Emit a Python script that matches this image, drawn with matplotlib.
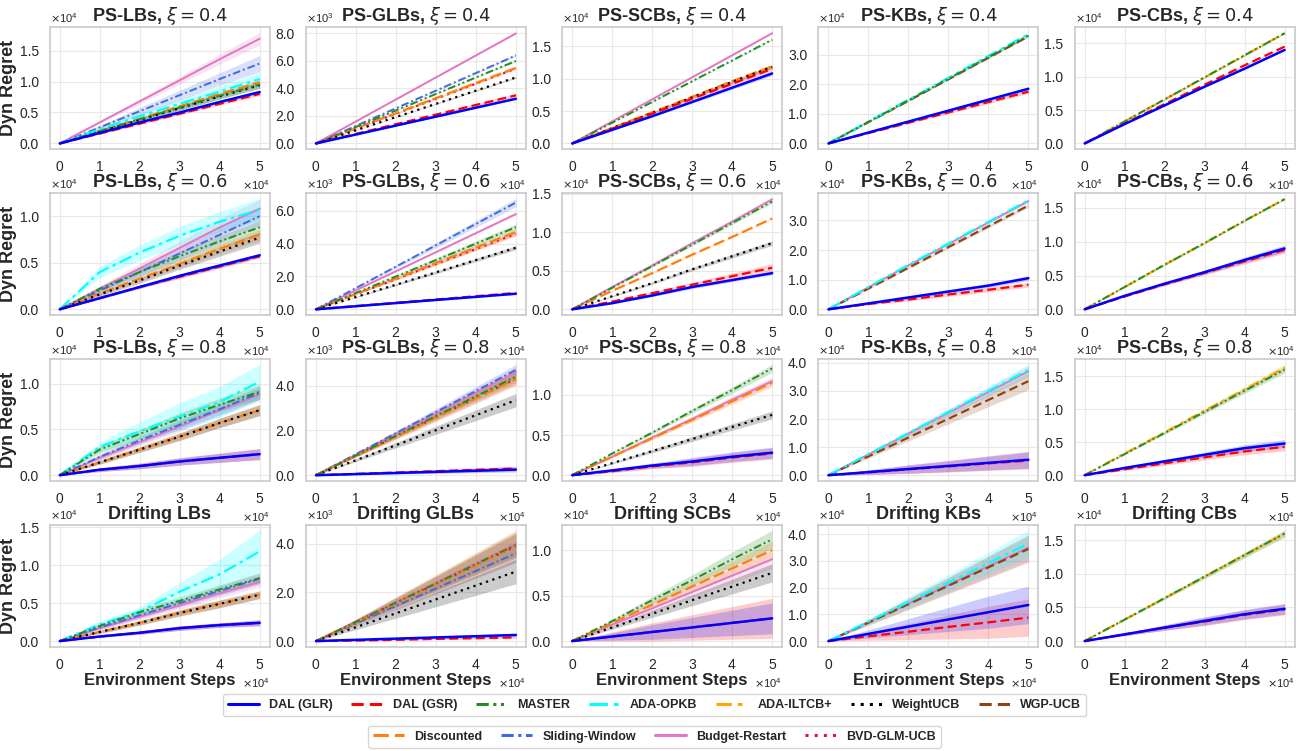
import matplotlib
matplotlib.use("Agg")
import matplotlib.pyplot as plt
import seaborn as sns
import numpy as np
from matplotlib.lines import Line2D
from matplotlib.ticker import ScalarFormatter, MaxNLocator

sns.set_theme(style="whitegrid")
plt.rcParams["font.family"] = ["Liberation Sans", "DejaVu Sans"]

# x positions (environment steps)
steps = [0, 10000, 20000, 30000, 40000, 50000]

# ---- data: name -> (mean, std), in units of the panel scale ----
ps_lbs_04 = {
    "DAL (GLR)": ([0, .17, .34, .50, .67, .83], [0, .01, .015, .02, .02, .025]),
    "DAL (GSR)": ([0, .16, .32, .48, .64, .80], [0, .01, .015, .02, .02, .025]),
    "MASTER": ([0, .20, .39, .58, .77, .95], [0, .02, .03, .04, .05, .06]),
    "ADA-OPKB": ([0, .23, .44, .64, .84, 1.04], [0, .03, .05, .07, .09, .11]),
    "WeightUCB": ([0, .19, .38, .57, .76, .94], [0, .02, .03, .04, .04, .05]),
    "Discounted": ([0, .20, .40, .60, .80, .99], [0, .01, .02, .03, .03, .04]),
    "Sliding-Window": ([0, .26, .52, .78, 1.04, 1.29], [0, .03, .06, .08, .10, .13]),
    "Budget-Restart": ([0, .34, .68, 1.02, 1.36, 1.69], [0, .02, .04, .06, .08, .10]),
}
ps_glbs_04 = {
    "DAL (GLR)": ([0, .65, 1.3, 1.95, 2.6, 3.25], [0, .02, .03, .04, .05, .06]),
    "DAL (GSR)": ([0, .70, 1.4, 2.1, 2.8, 3.5], [0, .03, .05, .08, .10, .12]),
    "MASTER": ([0, 1.2, 2.4, 3.6, 4.8, 6.0], [0, .02, .03, .04, .05, .06]),
    "WeightUCB": ([0, .96, 1.92, 2.88, 3.84, 4.8], [0, .02, .03, .04, .05, .06]),
    "Discounted": ([0, 1.1, 2.2, 3.3, 4.4, 5.5], [0, .02, .03, .04, .05, .06]),
    "BVD-GLM-UCB": ([0, 1.08, 2.16, 3.25, 4.35, 5.45], [0, .02, .03, .04, .05, .06]),
    "Sliding-Window": ([0, 1.28, 2.56, 3.84, 5.12, 6.4], [0, .02, .03, .04, .05, .06]),
    "Budget-Restart": ([0, 1.6, 3.2, 4.8, 6.4, 8.0], [0, .02, .03, .04, .05, .06]),
}
ps_scbs_04 = {
    "DAL (GLR)": ([0, .21, .42, .64, .86, 1.08], [0, .01, .015, .02, .025, .03]),
    "DAL (GSR)": ([0, .23, .46, .69, .92, 1.15], [0, .01, .015, .02, .025, .03]),
    "MASTER": ([0, .32, .64, .96, 1.28, 1.60], [0, .005, .01, .01, .01, .01]),
    "WeightUCB": ([0, .235, .47, .71, .95, 1.18], [0, .01, .01, .015, .02, .02]),
    "Discounted": ([0, .24, .48, .72, .96, 1.19], [0, .01, .015, .02, .025, .03]),
    "Budget-Restart": ([0, .34, .68, 1.02, 1.36, 1.70], [0, .005, .01, .01, .01, .01]),
}
ps_kbs_04 = {
    "DAL (GLR)": ([0, .37, .74, 1.11, 1.48, 1.85], [0, .02, .03, .04, .05, .06]),
    "DAL (GSR)": ([0, .35, .70, 1.05, 1.40, 1.75], [0, .02, .03, .04, .05, .06]),
    "MASTER": ([0, .73, 1.46, 2.19, 2.92, 3.65], [0, .01, .02, .02, .03, .03]),
    "ADA-OPKB": ([0, .74, 1.48, 2.22, 2.96, 3.70], [0, .01, .02, .03, .04, .05]),
    "WGP-UCB": ([0, .72, 1.44, 2.17, 2.90, 3.62], [0, .01, .02, .02, .03, .03]),
}
ps_cbs_04 = {
    "DAL (GLR)": ([0, .29, .57, .85, 1.12, 1.40], [0, .005, .01, .01, .01, .01]),
    "DAL (GSR)": ([0, .30, .59, .88, 1.17, 1.45], [0, .005, .01, .01, .01, .01]),
    "MASTER": ([0, .33, .66, .99, 1.32, 1.65], [0, .005, .01, .01, .01, .01]),
    "ADA-ILTCB+": ([0, .33, .66, .99, 1.32, 1.65], [0, .005, .01, .01, .01, .01]),
}

ps_lbs_06 = {
    "DAL (GLR)": ([0, .12, .24, .36, .47, .58], [0, .01, .015, .02, .02, .02]),
    "DAL (GSR)": ([0, .12, .24, .35, .46, .57], [0, .01, .015, .02, .02, .02]),
    "MASTER": ([0, .22, .40, .57, .73, .88], [0, .03, .04, .05, .06, .07]),
    "ADA-OPKB": ([0, .40, .61, .79, .94, 1.07], [0, .06, .08, .10, .11, .12]),
    "WeightUCB": ([0, .16, .31, .47, .62, .77], [0, .02, .03, .04, .05, .06]),
    "Discounted": ([0, .17, .33, .49, .65, .80], [0, .02, .03, .04, .05, .06]),
    "Sliding-Window": ([0, .20, .40, .60, .80, 1.00], [0, .03, .05, .07, .09, .10]),
    "Budget-Restart": ([0, .22, .44, .66, .88, 1.08], [0, .03, .05, .07, .09, .10]),
}
ps_glbs_06 = {
    "DAL (GLR)": ([0, .19, .38, .57, .76, .95], [0, .01, .02, .03, .04, .05]),
    "DAL (GSR)": ([0, .20, .40, .60, .80, 1.0], [0, .01, .02, .03, .04, .05]),
    "MASTER": ([0, 1.0, 2.0, 3.0, 4.0, 5.0], [0, .04, .08, .12, .16, .2]),
    "WeightUCB": ([0, .75, 1.5, 2.25, 3.0, 3.75], [0, .03, .06, .08, .1, .12]),
    "Discounted": ([0, .94, 1.88, 2.82, 3.76, 4.7], [0, .04, .08, .12, .16, .2]),
    "BVD-GLM-UCB": ([0, .92, 1.84, 2.76, 3.68, 4.6], [0, .03, .06, .08, .1, .12]),
    "Sliding-Window": ([0, 1.3, 2.6, 3.9, 5.2, 6.5], [0, .06, .1, .15, .2, .25]),
    "Budget-Restart": ([0, 1.16, 2.32, 3.48, 4.64, 5.8], [0, .02, .03, .04, .05, .06]),
}
ps_scbs_06 = {
    "DAL (GLR)": ([0, .08, .18, .29, .38, .47], [0, .01, .015, .02, .02, .02]),
    "DAL (GSR)": ([0, .10, .21, .32, .43, .54], [0, .01, .02, .03, .04, .05]),
    "MASTER": ([0, .28, .56, .84, 1.12, 1.40], [0, .005, .01, .015, .02, .02]),
    "WeightUCB": ([0, .17, .34, .52, .69, .86], [0, .01, .015, .02, .025, .03]),
    "Discounted": ([0, .24, .47, .71, .94, 1.18], [0, .005, .01, .01, .01, .01]),
    "Budget-Restart": ([0, .29, .57, .86, 1.14, 1.43], [0, .005, .01, .01, .01, .01]),
}
ps_kbs_06 = {
    "DAL (GLR)": ([0, .20, .40, .60, .80, 1.05], [0, .03, .05, .06, .07, .08]),
    "DAL (GSR)": ([0, .18, .33, .50, .66, .83], [0, .03, .05, .06, .07, .08]),
    "ADA-OPKB": ([0, .75, 1.50, 2.22, 2.95, 3.68], [0, .02, .03, .04, .05, .06]),
    "WGP-UCB": ([0, .70, 1.40, 2.10, 2.80, 3.50], [0, .02, .03, .04, .05, .06]),
    "Budget-Restart": ([0, .74, 1.48, 2.20, 2.93, 3.65], [0, .02, .03, .04, .05, .06]),
}
ps_cbs_06 = {
    "DAL (GLR)": ([0, .20, .38, .55, .73, .90], [0, .01, .02, .03, .04, .05]),
    "DAL (GSR)": ([0, .19, .37, .54, .71, .88], [0, .01, .02, .03, .04, .05]),
    "MASTER": ([0, .33, .66, .98, 1.31, 1.63], [0, .005, .01, .01, .01, .01]),
    "ADA-ILTCB+": ([0, .33, .66, .98, 1.31, 1.63], [0, .005, .01, .01, .01, .01]),
}

ps_lbs_08 = {
    "DAL (GLR)": ([0, .06, .10, .15, .19, .23], [0, .02, .03, .04, .05, .06]),
    "DAL (GSR)": ([0, .06, .10, .15, .19, .23], [0, .02, .03, .04, .05, .06]),
    "MASTER": ([0, .28, .45, .62, .77, .91], [0, .04, .05, .06, .07, .08]),
    "ADA-OPKB": ([0, .31, .48, .64, .80, 1.02], [0, .05, .10, .15, .17, .19]),
    "WeightUCB": ([0, .14, .28, .42, .57, .71], [0, .02, .03, .04, .05, .06]),
    "Discounted": ([0, .14, .28, .42, .57, .71], [0, .02, .03, .04, .05, .06]),
    "Sliding-Window": ([0, .20, .38, .55, .72, .90], [0, .03, .04, .05, .06, .07]),
    "Budget-Restart": ([0, .19, .36, .53, .71, .88], [0, .03, .04, .05, .06, .07]),
}
ps_glbs_08 = {
    "DAL (GLR)": ([0, .05, .10, .15, .20, .25], [0, .03, .05, .07, .09, .10]),
    "DAL (GSR)": ([0, .06, .12, .18, .24, .30], [0, .03, .05, .07, .09, .10]),
    "MASTER": ([0, .88, 1.76, 2.64, 3.52, 4.40], [0, .05, .1, .15, .2, .25]),
    "WeightUCB": ([0, .67, 1.34, 2.01, 2.68, 3.35], [0, .06, .12, .18, .24, .3]),
    "Discounted": ([0, .86, 1.72, 2.58, 3.44, 4.30], [0, .06, .12, .18, .24, .3]),
    "BVD-GLM-UCB": ([0, .86, 1.72, 2.58, 3.44, 4.30], [0, .05, .1, .15, .2, .25]),
    "Sliding-Window": ([0, .94, 1.88, 2.82, 3.76, 4.70], [0, .05, .1, .15, .2, .25]),
    "Budget-Restart": ([0, .92, 1.84, 2.76, 3.68, 4.60], [0, .05, .1, .15, .2, .25]),
}
ps_scbs_08 = {
    "DAL (GLR)": ([0, .06, .12, .17, .23, .28], [0, .02, .03, .05, .06, .07]),
    "DAL (GSR)": ([0, .05, .11, .16, .22, .27], [0, .02, .03, .05, .06, .07]),
    "MASTER": ([0, .27, .53, .80, 1.06, 1.33], [0, .01, .02, .03, .04, .05]),
    "WeightUCB": ([0, .15, .30, .45, .60, .75], [0, .01, .02, .03, .04, .05]),
    "Discounted": ([0, .23, .46, .69, .92, 1.15], [0, .01, .02, .03, .04, .05]),
    "Budget-Restart": ([0, .23, .47, .70, .94, 1.17], [0, .01, .02, .03, .04, .05]),
}
ps_kbs_08 = {
    "DAL (GLR)": ([0, .11, .22, .33, .44, .55], [0, .08, .15, .2, .25, .3]),
    "DAL (GSR)": ([0, .10, .21, .31, .42, .52], [0, .08, .15, .2, .25, .3]),
    "ADA-OPKB": ([0, .75, 1.50, 2.25, 3.00, 3.75], [0, .04, .08, .12, .16, .2]),
    "WGP-UCB": ([0, .67, 1.34, 2.01, 2.68, 3.35], [0, .06, .12, .18, .24, .3]),
    "Budget-Restart": ([0, .74, 1.48, 2.22, 2.96, 3.70], [0, .04, .08, .12, .16, .2]),
}
ps_cbs_08 = {
    "DAL (GLR)": ([0, .11, .21, .31, .41, .48], [0, .02, .03, .04, .05, .06]),
    "DAL (GSR)": ([0, .09, .18, .27, .36, .43], [0, .02, .03, .04, .05, .06]),
    "MASTER": ([0, .32, .64, .96, 1.28, 1.60], [0, .01, .02, .03, .04, .05]),
    "ADA-ILTCB+": ([0, .33, .65, .98, 1.30, 1.63], [0, .01, .02, .03, .04, .05]),
}

drift_lbs = {
    "DAL (GLR)": ([0, .06, .11, .17, .21, .24], [0, .01, .02, .03, .03, .04]),
    "DAL (GSR)": ([0, .06, .11, .17, .21, .24], [0, .01, .02, .03, .03, .04]),
    "MASTER": ([0, .20, .38, .53, .68, .83], [0, .03, .04, .05, .06, .07]),
    "ADA-OPKB": ([0, .22, .39, .65, .88, 1.18], [0, .04, .06, .12, .20, .28]),
    "WeightUCB": ([0, .12, .24, .37, .49, .61], [0, .02, .03, .04, .05, .05]),
    "Discounted": ([0, .12, .24, .37, .49, .61], [0, .02, .03, .04, .05, .05]),
    "Sliding-Window": ([0, .18, .34, .50, .66, .82], [0, .03, .04, .05, .06, .07]),
    "Budget-Restart": ([0, .17, .32, .47, .63, .78], [0, .03, .04, .05, .06, .07]),
}
drift_glbs = {
    "DAL (GLR)": ([0, .05, .10, .15, .20, .25], [0, .02, .04, .05, .06, .07]),
    "DAL (GSR)": ([0, .02, .05, .09, .12, .15], [0, .01, .02, .03, .04, .05]),
    "MASTER": ([0, .79, 1.58, 2.37, 3.16, 3.95], [0, .1, .2, .3, .4, .5]),
    "WeightUCB": ([0, .57, 1.14, 1.71, 2.28, 2.85], [0, .1, .2, .3, .4, .5]),
    "Discounted": ([0, .78, 1.56, 2.34, 3.12, 3.90], [0, .13, .26, .39, .52, .65]),
    "BVD-GLM-UCB": ([0, .78, 1.56, 2.34, 3.12, 3.90], [0, .1, .2, .3, .4, .5]),
    "Sliding-Window": ([0, .72, 1.44, 2.16, 2.88, 3.60], [0, .08, .15, .22, .3, .38]),
    "Budget-Restart": ([0, .80, 1.60, 2.40, 3.20, 4.00], [0, .1, .2, .3, .4, .5]),
}
drift_scbs = {
    "DAL (GLR)": ([0, .05, .10, .15, .20, .25], [0, .04, .08, .11, .14, .17]),
    "DAL (GSR)": ([0, .05, .10, .15, .20, .25], [0, .05, .1, .14, .18, .22]),
    "MASTER": ([0, .22, .45, .67, .90, 1.12], [0, .02, .04, .06, .08, .1]),
    "WeightUCB": ([0, .15, .30, .45, .60, .75], [0, .02, .04, .06, .08, .1]),
    "Discounted": ([0, .20, .40, .60, .80, 1.00], [0, .02, .04, .06, .08, .1]),
    "Budget-Restart": ([0, .18, .36, .54, .72, .90], [0, .02, .04, .06, .08, .1]),
}
drift_kbs = {
    "DAL (GLR)": ([0, .27, .54, .81, 1.08, 1.35], [0, .15, .3, .45, .6, .7]),
    "DAL (GSR)": ([0, .18, .35, .53, .70, .88], [0, .15, .3, .45, .6, .7]),
    "ADA-OPKB": ([0, .73, 1.46, 2.19, 2.92, 3.65], [0, .1, .2, .3, .4, .5]),
    "WGP-UCB": ([0, .69, 1.38, 2.07, 2.76, 3.45], [0, .1, .2, .3, .4, .5]),
    "Budget-Restart": ([0, .70, 1.40, 2.10, 2.80, 3.50], [0, .1, .2, .3, .4, .5]),
}
drift_cbs = {
    "DAL (GLR)": ([0, .10, .20, .30, .40, .48], [0, .02, .04, .06, .07, .08]),
    "DAL (GSR)": ([0, .10, .20, .29, .39, .47], [0, .02, .04, .06, .07, .08]),
    "MASTER": ([0, .32, .64, .96, 1.28, 1.60], [0, .01, .02, .03, .04, .05]),
    "ADA-ILTCB+": ([0, .32, .64, .96, 1.28, 1.60], [0, .01, .02, .03, .04, .05]),
}

titles = [
    [r"PS-LBs, $\xi = 0.4$", r"PS-GLBs, $\xi = 0.4$", r"PS-SCBs, $\xi = 0.4$", r"PS-KBs, $\xi = 0.4$", r"PS-CBs, $\xi = 0.4$"],
    [r"PS-LBs, $\xi = 0.6$", r"PS-GLBs, $\xi = 0.6$", r"PS-SCBs, $\xi = 0.6$", r"PS-KBs, $\xi = 0.6$", r"PS-CBs, $\xi = 0.6$"],
    [r"PS-LBs, $\xi = 0.8$", r"PS-GLBs, $\xi = 0.8$", r"PS-SCBs, $\xi = 0.8$", r"PS-KBs, $\xi = 0.8$", r"PS-CBs, $\xi = 0.8$"],
    ["Drifting LBs", "Drifting GLBs", "Drifting SCBs", "Drifting KBs", "Drifting CBs"],
]
panel_data = [
    [ps_lbs_04, ps_glbs_04, ps_scbs_04, ps_kbs_04, ps_cbs_04],
    [ps_lbs_06, ps_glbs_06, ps_scbs_06, ps_kbs_06, ps_cbs_06],
    [ps_lbs_08, ps_glbs_08, ps_scbs_08, ps_kbs_08, ps_cbs_08],
    [drift_lbs, drift_glbs, drift_scbs, drift_kbs, drift_cbs],
]
# panel y unit per column (GLBs are in thousands)
col_units = [1e4, 1e3, 1e4, 1e4, 1e4]

styles = {
    "DAL (GLR)": dict(color="blue", ls="-", lw=1.8),
    "DAL (GSR)": dict(color="red", ls=(0, (4, 2)), lw=1.6),
    "MASTER": dict(color="forestgreen", ls=(0, (4, 1.5, 1, 1.5, 1, 1.5)), lw=1.4),
    "ADA-OPKB": dict(color="cyan", ls=(0, (6, 2, 1.5, 2)), lw=1.6),
    "ADA-ILTCB+": dict(color="orange", ls=(0, (5, 2, 1.5, 2)), lw=1.6),
    "WeightUCB": dict(color="black", ls=(0, (1, 2)), lw=1.6),
    "WGP-UCB": dict(color="saddlebrown", ls=(0, (4, 2)), lw=1.6),
    "Discounted": dict(color="#ff7f0e", ls=(0, (5, 2)), lw=1.6),
    "Sliding-Window": dict(color="royalblue", ls=(0, (4, 1.5, 1, 1.5)), lw=1.4),
    "Budget-Restart": dict(color="#e377c2", ls="-", lw=1.4),
    "BVD-GLM-UCB": dict(color="crimson", ls=(0, (1, 2)), lw=1.6),
}
legend_row1 = ["DAL (GLR)", "DAL (GSR)", "MASTER", "ADA-OPKB", "ADA-ILTCB+", "WeightUCB", "WGP-UCB"]
legend_row2 = ["Discounted", "Sliding-Window", "Budget-Restart", "BVD-GLM-UCB"]


class OneDecimal(ScalarFormatter):
    def _set_format(self):
        self.format = "%1.1f"


fig, axes = plt.subplots(4, 5, figsize=(13.09, 7.51), dpi=100)
fig.subplots_adjust(left=0.038, right=0.989, top=0.964, bottom=0.139, wspace=0.165, hspace=0.36)

x = np.array(steps)
for r in range(4):
    for c in range(5):
        ax = axes[r, c]
        unit = col_units[c]
        # draw in reverse so DAL lines end up on top
        for name, (mean, std) in reversed(list(panel_data[r][c].items())):
            m = np.array(mean) * unit
            s = np.array(std) * unit
            st = styles[name]
            ax.fill_between(x, m - s, m + s, color=st["color"], alpha=0.2, lw=0)
            ax.plot(x, m, color=st["color"], ls=st["ls"], lw=st["lw"])
        ax.set_title(titles[r][c], fontsize=13, fontweight="bold", pad=4)
        ax.yaxis.set_major_locator(MaxNLocator(nbins=5, steps=[1, 2, 5, 10]))
        yf = OneDecimal(useMathText=True)
        yf.set_powerlimits((0, 0))
        ax.yaxis.set_major_formatter(yf)
        xf = ScalarFormatter(useMathText=True)
        xf.set_powerlimits((0, 0))
        ax.xaxis.set_major_formatter(xf)
        ax.set_xticks([0, 10000, 20000, 30000, 40000, 50000])
        ax.tick_params(labelsize=10, pad=2)
        ax.yaxis.get_offset_text().set_fontsize(8)
        ax.xaxis.get_offset_text().set_fontsize(8)
        for sp in ax.spines.values():
            sp.set_color("#cccccc")
        ax.grid(True, color="#e8e8e8", lw=0.8)
        if c == 0:
            ax.set_ylabel("Dyn Regret", fontsize=13, fontweight="bold", labelpad=2)
        if r == 3:
            ax.set_xlabel("Environment Steps", fontsize=12, fontweight="bold", labelpad=1)


def handles(names):
    return [Line2D([0], [0], color=styles[n]["color"], ls=styles[n]["ls"], lw=2.2, label=n) for n in names]


leg1 = fig.legend(handles=handles(legend_row1), loc="center", bbox_to_anchor=(0.5, 0.061), ncol=7,
                  prop={"weight": "bold", "size": 9}, frameon=True, handlelength=2.5, columnspacing=1.5)
leg2 = fig.legend(handles=handles(legend_row2), loc="center", bbox_to_anchor=(0.5, 0.019), ncol=4,
                  prop={"weight": "bold", "size": 9}, frameon=True, handlelength=2.5, columnspacing=1.5)
for lg in (leg1, leg2):
    lg.get_frame().set_edgecolor("#cccccc")

fig.savefig("out.png", dpi=100)
